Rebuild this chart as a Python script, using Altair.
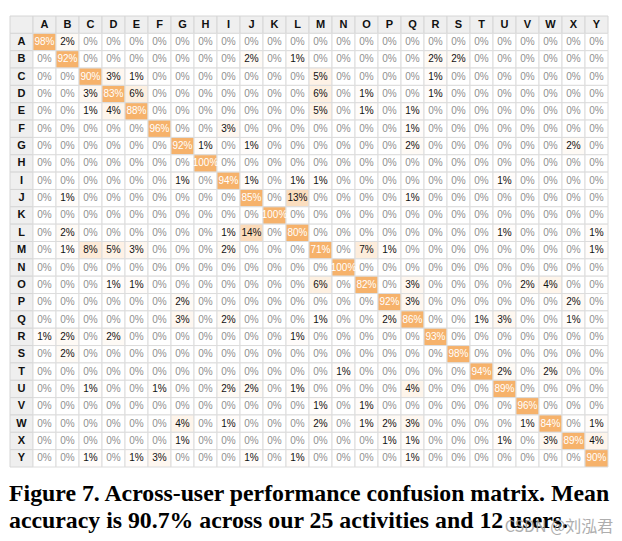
import altair as alt
import pandas as pd

labels = list("ABCDEFGHIJKLMNOPQRSTUVWXY")

row_A = [98, 2, 0, 0, 0, 0, 0, 0, 0, 0, 0, 0, 0, 0, 0, 0, 0, 0, 0, 0, 0, 0, 0, 0, 0]
row_B = [0, 92, 0, 0, 0, 0, 0, 0, 0, 2, 0, 1, 0, 0, 0, 0, 0, 2, 2, 0, 0, 0, 0, 0, 0]
row_C = [0, 0, 90, 3, 1, 0, 0, 0, 0, 0, 0, 0, 5, 0, 0, 0, 0, 1, 0, 0, 0, 0, 0, 0, 0]
row_D = [0, 0, 3, 83, 6, 0, 0, 0, 0, 0, 0, 0, 6, 0, 1, 0, 0, 1, 0, 0, 0, 0, 0, 0, 0]
row_E = [0, 0, 1, 4, 88, 0, 0, 0, 0, 0, 0, 0, 5, 0, 1, 0, 1, 0, 0, 0, 0, 0, 0, 0, 0]
row_F = [0, 0, 0, 0, 0, 96, 0, 0, 3, 0, 0, 0, 0, 0, 0, 0, 1, 0, 0, 0, 0, 0, 0, 0, 0]
row_G = [0, 0, 0, 0, 0, 0, 92, 1, 0, 1, 0, 0, 0, 0, 0, 0, 2, 0, 0, 0, 0, 0, 0, 2, 0]
row_H = [0, 0, 0, 0, 0, 0, 0, 100, 0, 0, 0, 0, 0, 0, 0, 0, 0, 0, 0, 0, 0, 0, 0, 0, 0]
row_I = [0, 0, 0, 0, 0, 0, 1, 0, 94, 1, 0, 1, 1, 0, 0, 0, 0, 0, 0, 0, 1, 0, 0, 0, 0]
row_J = [0, 1, 0, 0, 0, 0, 0, 0, 0, 85, 0, 13, 0, 0, 0, 0, 1, 0, 0, 0, 0, 0, 0, 0, 0]
row_K = [0, 0, 0, 0, 0, 0, 0, 0, 0, 0, 100, 0, 0, 0, 0, 0, 0, 0, 0, 0, 0, 0, 0, 0, 0]
row_L = [0, 2, 0, 0, 0, 0, 0, 0, 1, 14, 0, 80, 0, 0, 0, 0, 0, 0, 0, 0, 1, 0, 0, 0, 1]
row_M = [0, 1, 8, 5, 3, 0, 0, 0, 2, 0, 0, 0, 71, 0, 7, 1, 0, 0, 0, 0, 0, 0, 0, 0, 1]
row_N = [0, 0, 0, 0, 0, 0, 0, 0, 0, 0, 0, 0, 0, 100, 0, 0, 0, 0, 0, 0, 0, 0, 0, 0, 0]
row_O = [0, 0, 0, 1, 1, 0, 0, 0, 0, 0, 0, 0, 6, 0, 82, 0, 3, 0, 0, 0, 0, 2, 4, 0, 0]
row_P = [0, 0, 0, 0, 0, 0, 2, 0, 0, 0, 0, 0, 0, 0, 0, 92, 3, 0, 0, 0, 0, 0, 0, 2, 0]
row_Q = [0, 0, 0, 0, 0, 0, 3, 0, 2, 0, 0, 0, 1, 0, 0, 2, 86, 0, 0, 1, 3, 0, 0, 1, 0]
row_R = [1, 2, 0, 2, 0, 0, 0, 0, 0, 0, 0, 1, 0, 0, 0, 0, 0, 93, 0, 0, 0, 0, 0, 0, 0]
row_S = [0, 2, 0, 0, 0, 0, 0, 0, 0, 0, 0, 0, 0, 0, 0, 0, 0, 0, 98, 0, 0, 0, 0, 0, 0]
row_T = [0, 0, 0, 0, 0, 0, 0, 0, 0, 0, 0, 0, 0, 1, 0, 0, 0, 0, 0, 94, 2, 0, 2, 0, 0]
row_U = [0, 0, 1, 0, 0, 1, 0, 0, 2, 2, 0, 1, 0, 0, 0, 0, 4, 0, 0, 0, 89, 0, 0, 0, 0]
row_V = [0, 0, 0, 0, 0, 0, 0, 0, 0, 0, 0, 0, 1, 0, 1, 0, 0, 0, 0, 0, 0, 96, 0, 0, 0]
row_W = [0, 0, 0, 0, 0, 0, 4, 0, 1, 0, 0, 0, 2, 0, 1, 2, 3, 0, 0, 0, 0, 1, 84, 0, 1]
row_X = [0, 0, 0, 0, 0, 0, 1, 0, 0, 0, 0, 0, 0, 0, 0, 1, 1, 0, 0, 0, 1, 0, 3, 89, 4]
row_Y = [0, 0, 1, 0, 1, 3, 0, 0, 0, 1, 0, 1, 0, 0, 0, 0, 1, 0, 0, 0, 0, 0, 0, 0, 90]

rows = [row_A, row_B, row_C, row_D, row_E, row_F, row_G, row_H, row_I, row_J,
        row_K, row_L, row_M, row_N, row_O, row_P, row_Q, row_R, row_S, row_T,
        row_U, row_V, row_W, row_X, row_Y]

caption = ["Figure 7. Across-user performance confusion matrix. Mean",
           "accuracy is 90.7% across our 25 activities and 12 users."]
watermark = "CSDN @刘泓君"

HDR = "#"
order = [HDR] + labels

cells = []
for r, vals in zip(labels, rows):
    for c, v in zip(labels, vals):
        tone = "zero" if v == 0 else ("high" if v >= 50 else "mid")
        cells.append({"row": r, "col": c, "value": v, "label": f"{v}%", "tone": tone})
cells = pd.DataFrame(cells)

headers = [{"row": HDR, "col": HDR, "label": ""}]
headers += [{"row": HDR, "col": c, "label": c} for c in labels]
headers += [{"row": r, "col": HDR, "label": r} for r in labels]
headers = pd.DataFrame(headers)

xs = alt.X("col:N", sort=order, scale=alt.Scale(domain=order, paddingInner=0, paddingOuter=0), axis=None)
ys = alt.Y("row:N", sort=order, scale=alt.Scale(domain=order, paddingInner=0, paddingOuter=0), axis=None)

hdr_rect = alt.Chart(headers).mark_rect(fill="#efefef", stroke="#d6d6d6", strokeWidth=1).encode(x=xs, y=ys)
hdr_text = alt.Chart(headers).mark_text(font="Liberation Sans", fontSize=11, fontWeight="bold", color="#111111").encode(
    x=xs, y=ys, text="label:N")

cell_rect = alt.Chart(cells).mark_rect(stroke="#dcdcdc", strokeWidth=1).encode(
    x=xs, y=ys,
    fill=alt.Fill("value:Q",
                  scale=alt.Scale(type="linear", domain=[0, 30], range=["#ffffff", "#f6b26b"],
                                  interpolate="rgb", clamp=True, zero=False, nice=False),
                  legend=None),
)
cell_text = alt.Chart(cells).mark_text(font="Liberation Sans", fontSize=10).encode(
    x=xs, y=ys, text="label:N",
    color=alt.Color("tone:N", scale=alt.Scale(domain=["zero", "mid", "high"], range=["#8f8f8f", "#111111", "#ffffff"]), legend=None),
)

grid = alt.layer(hdr_rect, cell_rect, hdr_text, cell_text).properties(width=598, height=451)

cap_df = pd.DataFrame({"line": [0, 1], "text": caption})
cap = alt.Chart(cap_df).mark_text(
    font="Liberation Serif", fontSize=23.8, fontWeight="bold", color="#000000", align="left", baseline="alphabetic", dx=-1
).encode(
    x=alt.value(0),
    y=alt.Y("line:O", axis=None, scale=alt.Scale(paddingInner=0, paddingOuter=0.5)),
    text="text:N",
)
wm = alt.Chart(pd.DataFrame({"t": [watermark]})).mark_text(
    font="Noto Sans CJK SC", fontSize=16, color="#9a9a9a", opacity=0.8, align="center", baseline="middle"
).encode(x=alt.value(549), y=alt.value(39), text="t:N")
caption_chart = alt.layer(cap, wm).properties(width=598, height=53)

chart = alt.vconcat(grid, caption_chart, spacing=14).properties(
    padding={"left": 1, "top": 7, "right": 0, "bottom": 0},
    background="#ffffff",
).configure_view(stroke=None).configure_concat(spacing=14)

chart.save("out.html", embed_options={"renderer": "svg", "actions": False})
